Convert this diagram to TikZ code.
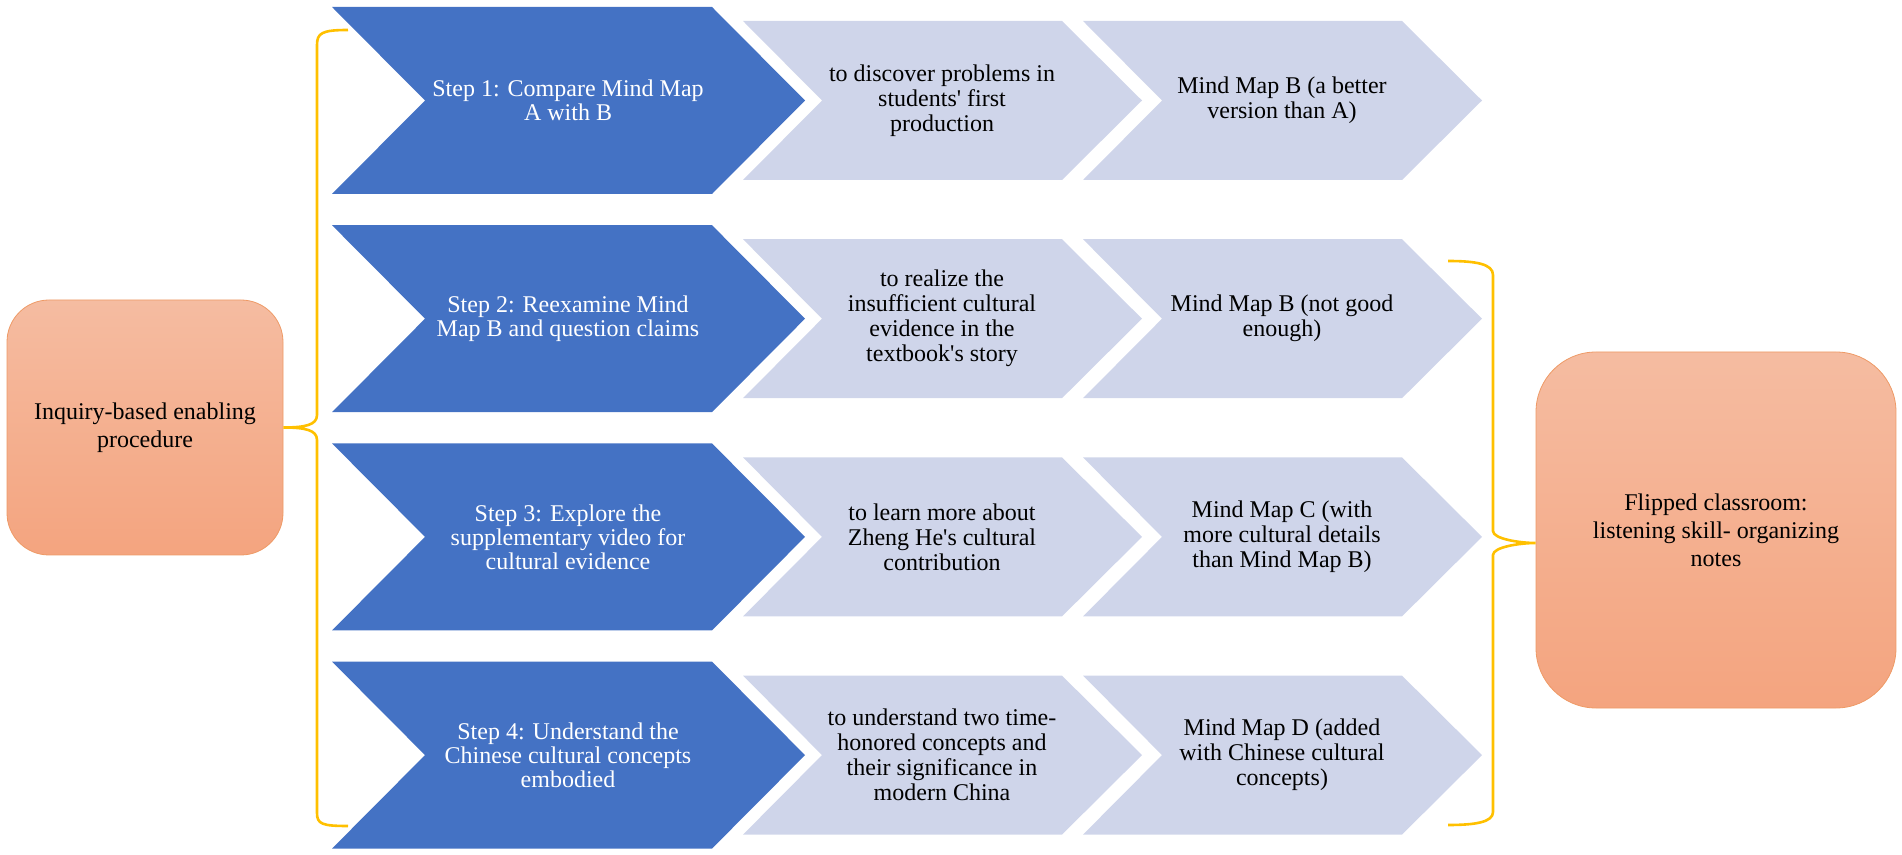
\documentclass[tikz,border=0pt]{standalone}
\usepackage{fontspec}
\setmainfont{Liberation Serif}
\definecolor{stepblue}{HTML}{4472C4}
\definecolor{paleblue}{HTML}{CFD5EA}
\definecolor{bracegold}{HTML}{FFC000}
\definecolor{boxtop}{HTML}{F5BCA1}
\definecolor{boxbot}{HTML}{F4A47F}
\definecolor{boxline}{HTML}{EE9A66}

\begin{document}
\begin{tikzpicture}[x=0.5pt, y=-0.5pt,
  darkstep/.style={fill=stepblue},
  palestep/.style={fill=paleblue},
  steptext/.style={align=center, text=white, font=\fontsize{12}{12}\selectfont},
  paletext/.style={align=center, font=\fontsize{12}{12.5}\selectfont},
  sidebox/.style={draw=boxline, top color=boxtop, bottom color=boxbot, align=center, inner sep=0pt, font=\fontsize{12}{14}\selectfont},
  brace/.style={draw=bracegold, line width=1.3pt}]
\useasboundingbox (0,0) rectangle (1902,855);
% Draw chevrons
\foreach \c in {100.5, 318.7, 536.9, 755.1} {
  \fill[darkstep] (332,\c-93.5) -- (712,\c-93.5) -- (805,\c) -- (712,\c+93.5) -- (332,\c+93.5) -- (425,\c) -- cycle;
  \foreach \dx in {0, 340}
    \fill[palestep] (743+\dx,\c-79.5) -- (1062+\dx,\c-79.5) -- (1142+\dx,\c) -- (1062+\dx,\c+79.5) -- (743+\dx,\c+79.5) -- (822+\dx,\c) -- cycle;
}
% Steps
\node[steptext] (step1) at (568,100.5) {Step 1: Compare Mind Map\\A with B};
\node[steptext] (step2) at (568,318.7) {Step 2: Reexamine Mind\\Map B and question claims};
\node[steptext] (step3) at (568,536.9) {Step 3: Explore the\\supplementary video for\\cultural evidence};
\node[steptext] (step4) at (568,755.1) {Step 4: Understand the\\Chinese cultural concepts\\embodied};
% Aims
\node[paletext] (aim1) at (942,100.5) {to discover problems in\\students\textquotesingle{} first\\production};
\node[paletext] (aim2) at (942,318.7) {to realize the\\insufficient cultural\\evidence in the\\textbook\textquotesingle s story};
\node[paletext] (aim3) at (942,536.9) {to learn more about\\Zheng He\textquotesingle s cultural\\contribution};
\node[paletext] (aim4) at (942,755.1) {to understand two time-\\honored concepts and\\their significance in\\modern China};
% Mind maps
\node[paletext] (map1) at (1282,100.5) {Mind Map B (a better\\version than A)};
\node[paletext] (map2) at (1282,318.7) {Mind Map B (not good\\enough)};
\node[paletext] (map3) at (1282,536.9) {Mind Map C (with\\more cultural details\\than Mind Map B)};
\node[paletext] (map4) at (1282,755.1) {Mind Map D (added\\with Chinese cultural\\concepts)};
% Side boxes
\node[sidebox, minimum width=138pt, minimum height=127.5pt, rounded corners=21pt] (procedure) at (145,427.5) {Inquiry-based enabling\\procedure};
\node[sidebox, minimum width=180pt, minimum height=178pt, rounded corners=30pt] (flipped) at (1716,530) {Flipped classroom:\\listening skill- organizing\\notes};
% Braces
\coordinate (lb-top) at (348,30);
\coordinate (lb-bot) at (348,826);
\draw[brace] (lb-top) .. controls (322,30) and (317,33) .. (317,45) -- (317,415)
  .. controls (317,425) and (305,427.5) .. (procedure.east)
  .. controls (305,427.5) and (317,430) .. (317,440) -- (317,813)
  .. controls (317,824) and (322,826) .. (lb-bot);
\coordinate (rb-top) at (1448,261);
\coordinate (rb-bot) at (1448,825);
\draw[brace] (rb-top) .. controls (1476,261) and (1493,264) .. (1493,275) -- (1493,531)
  .. controls (1493,539) and (1520,543) .. ([yshift=-6.5pt]flipped.west)
  .. controls (1520,543) and (1493,547) .. (1493,555) -- (1493,812)
  .. controls (1493,822) and (1476,825) .. (rb-bot);
\end{tikzpicture}
\end{document}
